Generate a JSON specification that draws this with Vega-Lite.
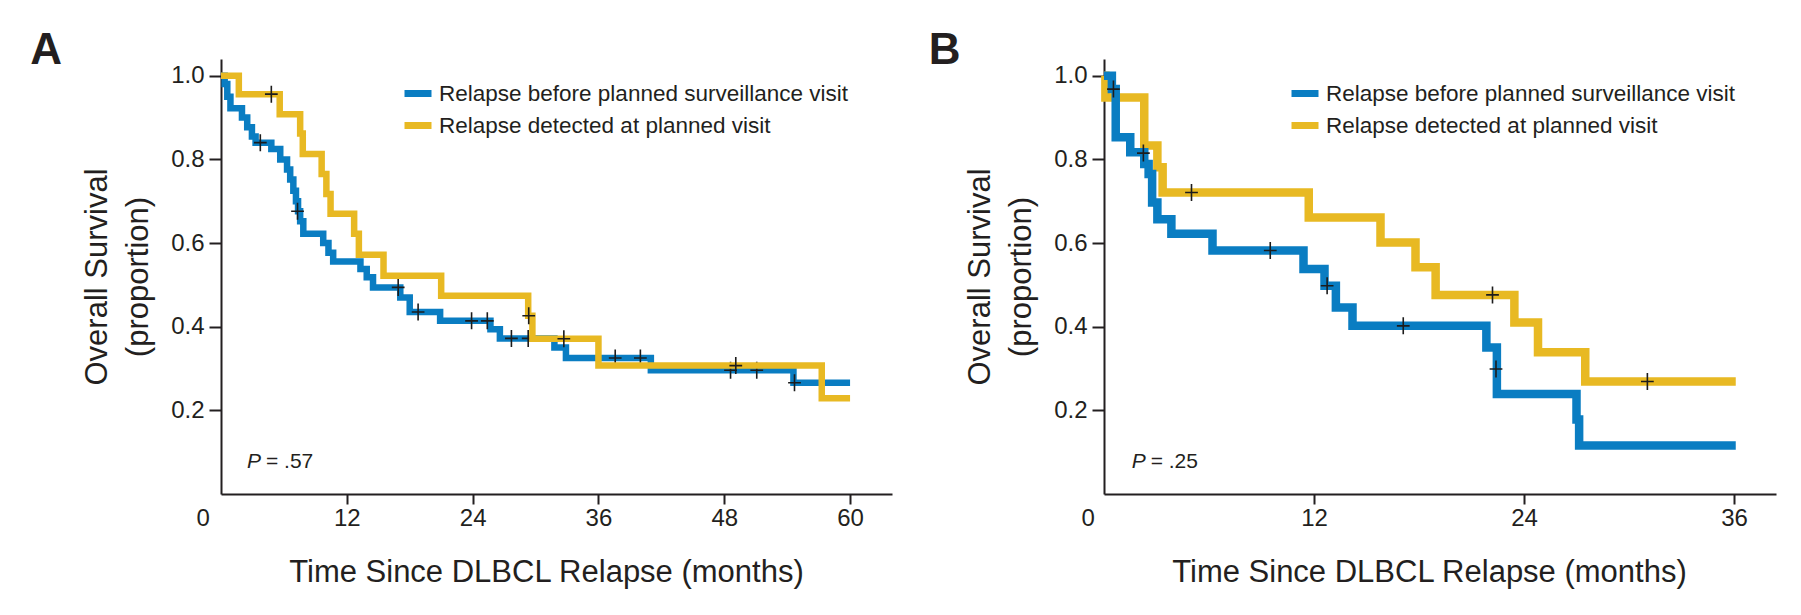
{
  "$schema": "https://vega.github.io/schema/vega-lite/v6.json",
  "background": "white",
  "autosize": {"type": "pad"},
  "padding": {"left": 30, "top": 28, "right": 25, "bottom": 8},
  "spacing": 36,
  "config": {
    "font": "Liberation Sans",
    "view": {"stroke": null},
    "axis": {
      "grid": false,
      "domainColor": "#231f20",
      "domainWidth": 2,
      "tickColor": "#231f20",
      "tickWidth": 2,
      "labelFont": "Liberation Sans",
      "labelFontSize": 24,
      "labelColor": "#231f20",
      "titleFont": "Liberation Sans",
      "titleFontSize": 31,
      "titleFontWeight": "normal",
      "titleColor": "#231f20"
    },
    "axisX": {"tickSize": 10, "labelPadding": 2, "titlePadding": 27, "titleX": 325},
    "axisY": {"tickSize": 12, "labelPadding": 5, "titlePadding": 16, "titleLineHeight": 41},
    "legend": {
      "orient": "none",
      "symbolType": "stroke",
      "symbolStrokeWidth": 7,
      "symbolSize": 729,
      "labelFont": "Liberation Sans",
      "labelFontSize": 22.5,
      "labelColor": "#231f20",
      "labelOffset": 4,
      "labelLimit": 700,
      "rowPadding": 1,
      "padding": 0
    },
    "title": {
      "font": "Liberation Sans",
      "fontSize": 44,
      "fontWeight": "bold",
      "color": "#231f20",
      "anchor": "start",
      "frame": "group",
      "baseline": "alphabetic",
      "offset": 0
    }
  },
  "datasets": {
    "A_blue": [
      {"t": 0, "s": 1.0, "group": "Relapse before planned surveillance visit"},
      {"t": 0.35, "s": 0.98, "group": "Relapse before planned surveillance visit"},
      {"t": 0.6, "s": 0.95, "group": "Relapse before planned surveillance visit"},
      {"t": 0.9, "s": 0.922, "group": "Relapse before planned surveillance visit"},
      {"t": 2.0, "s": 0.9, "group": "Relapse before planned surveillance visit"},
      {"t": 2.5, "s": 0.877, "group": "Relapse before planned surveillance visit"},
      {"t": 2.95, "s": 0.855, "group": "Relapse before planned surveillance visit"},
      {"t": 3.3, "s": 0.84, "group": "Relapse before planned surveillance visit"},
      {"t": 4.8, "s": 0.825, "group": "Relapse before planned surveillance visit"},
      {"t": 5.65, "s": 0.8, "group": "Relapse before planned surveillance visit"},
      {"t": 6.3, "s": 0.776, "group": "Relapse before planned surveillance visit"},
      {"t": 6.6, "s": 0.752, "group": "Relapse before planned surveillance visit"},
      {"t": 6.9, "s": 0.725, "group": "Relapse before planned surveillance visit"},
      {"t": 7.15, "s": 0.7, "group": "Relapse before planned surveillance visit"},
      {"t": 7.35, "s": 0.676, "group": "Relapse before planned surveillance visit"},
      {"t": 7.55, "s": 0.652, "group": "Relapse before planned surveillance visit"},
      {"t": 7.85, "s": 0.622, "group": "Relapse before planned surveillance visit"},
      {"t": 9.75, "s": 0.6, "group": "Relapse before planned surveillance visit"},
      {"t": 10.25, "s": 0.577, "group": "Relapse before planned surveillance visit"},
      {"t": 10.7, "s": 0.556, "group": "Relapse before planned surveillance visit"},
      {"t": 13.3, "s": 0.538, "group": "Relapse before planned surveillance visit"},
      {"t": 13.9, "s": 0.518, "group": "Relapse before planned surveillance visit"},
      {"t": 14.5, "s": 0.494, "group": "Relapse before planned surveillance visit"},
      {"t": 17.1, "s": 0.47, "group": "Relapse before planned surveillance visit"},
      {"t": 18.0, "s": 0.435, "group": "Relapse before planned surveillance visit"},
      {"t": 20.9, "s": 0.414, "group": "Relapse before planned surveillance visit"},
      {"t": 25.7, "s": 0.394, "group": "Relapse before planned surveillance visit"},
      {"t": 26.6, "s": 0.372, "group": "Relapse before planned surveillance visit"},
      {"t": 31.8, "s": 0.35, "group": "Relapse before planned surveillance visit"},
      {"t": 32.9, "s": 0.325, "group": "Relapse before planned surveillance visit"},
      {"t": 41.0, "s": 0.296, "group": "Relapse before planned surveillance visit"},
      {"t": 54.6, "s": 0.266, "group": "Relapse before planned surveillance visit"},
      {"t": 60, "s": 0.266, "group": "Relapse before planned surveillance visit"}
    ],
    "A_yellow": [
      {"t": 0, "s": 1.0, "group": "Relapse detected at planned visit"},
      {"t": 1.7, "s": 0.956, "group": "Relapse detected at planned visit"},
      {"t": 5.6, "s": 0.908, "group": "Relapse detected at planned visit"},
      {"t": 7.55, "s": 0.862, "group": "Relapse detected at planned visit"},
      {"t": 7.8, "s": 0.813, "group": "Relapse detected at planned visit"},
      {"t": 9.6, "s": 0.765, "group": "Relapse detected at planned visit"},
      {"t": 10.05, "s": 0.717, "group": "Relapse detected at planned visit"},
      {"t": 10.45, "s": 0.67, "group": "Relapse detected at planned visit"},
      {"t": 12.7, "s": 0.622, "group": "Relapse detected at planned visit"},
      {"t": 13.15, "s": 0.572, "group": "Relapse detected at planned visit"},
      {"t": 15.5, "s": 0.522, "group": "Relapse detected at planned visit"},
      {"t": 21.0, "s": 0.474, "group": "Relapse detected at planned visit"},
      {"t": 29.3, "s": 0.426, "group": "Relapse detected at planned visit"},
      {"t": 29.7, "s": 0.371, "group": "Relapse detected at planned visit"},
      {"t": 36.0, "s": 0.307, "group": "Relapse detected at planned visit"},
      {"t": 57.3, "s": 0.229, "group": "Relapse detected at planned visit"},
      {"t": 60, "s": 0.229, "group": "Relapse detected at planned visit"}
    ],
    "A_blue_c": [
      {"t": 3.75, "s": 0.84}, {"t": 7.3, "s": 0.676}, {"t": 16.9, "s": 0.494},
      {"t": 18.8, "s": 0.435}, {"t": 23.9, "s": 0.414}, {"t": 25.4, "s": 0.414},
      {"t": 27.7, "s": 0.372}, {"t": 29.3, "s": 0.372}, {"t": 37.6, "s": 0.325},
      {"t": 40.0, "s": 0.325}, {"t": 48.6, "s": 0.296}, {"t": 51.1, "s": 0.296},
      {"t": 54.7, "s": 0.266}
    ],
    "A_yellow_c": [
      {"t": 4.8, "s": 0.956}, {"t": 29.35, "s": 0.426}, {"t": 32.7, "s": 0.371}, {"t": 49.1, "s": 0.307}
    ],
    "A_p": [{"t": 2.48, "s": 0.061, "p": "P", "rest": "= .57"}],
    "B_blue": [
      {"t": 0, "s": 1.0, "group": "Relapse before planned surveillance visit"},
      {"t": 0.45, "s": 0.968, "group": "Relapse before planned surveillance visit"},
      {"t": 0.67, "s": 0.853, "group": "Relapse before planned surveillance visit"},
      {"t": 1.5, "s": 0.817, "group": "Relapse before planned surveillance visit"},
      {"t": 2.3, "s": 0.789, "group": "Relapse before planned surveillance visit"},
      {"t": 2.55, "s": 0.765, "group": "Relapse before planned surveillance visit"},
      {"t": 2.75, "s": 0.697, "group": "Relapse before planned surveillance visit"},
      {"t": 3.05, "s": 0.657, "group": "Relapse before planned surveillance visit"},
      {"t": 3.85, "s": 0.622, "group": "Relapse before planned surveillance visit"},
      {"t": 6.2, "s": 0.582, "group": "Relapse before planned surveillance visit"},
      {"t": 11.4, "s": 0.538, "group": "Relapse before planned surveillance visit"},
      {"t": 12.6, "s": 0.498, "group": "Relapse before planned surveillance visit"},
      {"t": 13.25, "s": 0.446, "group": "Relapse before planned surveillance visit"},
      {"t": 14.2, "s": 0.402, "group": "Relapse before planned surveillance visit"},
      {"t": 21.85, "s": 0.35, "group": "Relapse before planned surveillance visit"},
      {"t": 22.45, "s": 0.239, "group": "Relapse before planned surveillance visit"},
      {"t": 27.0, "s": 0.178, "group": "Relapse before planned surveillance visit"},
      {"t": 27.15, "s": 0.116, "group": "Relapse before planned surveillance visit"},
      {"t": 36.1, "s": 0.116, "group": "Relapse before planned surveillance visit"}
    ],
    "B_yellow": [
      {"t": 0, "s": 1.0, "group": "Relapse detected at planned visit"},
      {"t": 0.08, "s": 0.948, "group": "Relapse detected at planned visit"},
      {"t": 2.3, "s": 0.833, "group": "Relapse detected at planned visit"},
      {"t": 3.05, "s": 0.781, "group": "Relapse detected at planned visit"},
      {"t": 3.35, "s": 0.721, "group": "Relapse detected at planned visit"},
      {"t": 11.7, "s": 0.661, "group": "Relapse detected at planned visit"},
      {"t": 15.8, "s": 0.601, "group": "Relapse detected at planned visit"},
      {"t": 17.8, "s": 0.542, "group": "Relapse detected at planned visit"},
      {"t": 18.95, "s": 0.476, "group": "Relapse detected at planned visit"},
      {"t": 23.45, "s": 0.41, "group": "Relapse detected at planned visit"},
      {"t": 24.8, "s": 0.339, "group": "Relapse detected at planned visit"},
      {"t": 27.5, "s": 0.269, "group": "Relapse detected at planned visit"},
      {"t": 36.1, "s": 0.269, "group": "Relapse detected at planned visit"}
    ],
    "B_blue_c": [
      {"t": 0.54, "s": 0.968}, {"t": 2.25, "s": 0.815}, {"t": 9.5, "s": 0.582},
      {"t": 12.75, "s": 0.498}, {"t": 17.1, "s": 0.402}, {"t": 22.4, "s": 0.299}
    ],
    "B_yellow_c": [
      {"t": 5.0, "s": 0.721}, {"t": 22.2, "s": 0.476}, {"t": 31.05, "s": 0.269}
    ],
    "B_p": [{"t": 1.58, "s": 0.061, "p": "P", "rest": "= .25"}]
  },
  "hconcat": [
    {
      "width": 671,
      "height": 435,
      "title": {"text": "A", "dx": -190.7, "dy": 18},
      "encoding": {
        "x": {
          "field": "t", "type": "quantitative",
          "scale": {"domain": [0, 64], "nice": false, "zero": false},
          "axis": {
            "values": [0, 12, 24, 36, 48, 60], "format": "d",
            "title": "Time Since DLBCL Relapse (months)",
            "labelOffset": {"condition": {"test": "datum.value === 0", "value": -25}, "value": 0},
            "tickOpacity": {"condition": {"test": "datum.value === 0", "value": 0}, "value": 1}
          }
        },
        "y": {
          "field": "s", "type": "quantitative",
          "scale": {"domain": [0, 1.04], "nice": false},
          "axis": {"values": [0.2, 0.4, 0.6, 0.8, 1.0], "format": ".1f", "title": ["Overall Survival", "(proportion)"]}
        }
      },
      "layer": [
        {
          "data": {"name": "A_blue"},
          "mark": {"type": "line", "interpolate": "step-after", "strokeWidth": 6.5},
          "encoding": {
            "color": {
              "field": "group", "type": "nominal",
              "scale": {"domain": ["Relapse before planned surveillance visit", "Relapse detected at planned visit"], "range": ["#0a7dc2", "#e8b923"]},
              "legend": {"title": null, "legendX": 180, "legendY": 17.5}
            }
          }
        },
        {
          "data": {"name": "A_blue_c"},
          "mark": {"type": "point", "shape": "M-0.75,0H0.75M0,-1V1", "size": 289, "filled": false, "stroke": "#1c1c1c", "strokeWidth": 1.6, "opacity": 1}
        },
        {
          "data": {"name": "A_yellow"},
          "mark": {"type": "line", "interpolate": "step-after", "strokeWidth": 6.5},
          "encoding": {"color": {"field": "group", "type": "nominal"}}
        },
        {
          "data": {"name": "A_yellow_c"},
          "mark": {"type": "point", "shape": "M-0.75,0H0.75M0,-1V1", "size": 289, "filled": false, "stroke": "#1c1c1c", "strokeWidth": 1.6, "opacity": 1}
        },
        {
          "data": {"name": "A_p"},
          "mark": {"type": "text", "align": "left", "baseline": "alphabetic", "fontSize": 21, "fontStyle": "italic", "color": "#231f20"},
          "encoding": {"text": {"field": "p"}}
        },
        {
          "data": {"name": "A_p"},
          "mark": {"type": "text", "align": "left", "baseline": "alphabetic", "fontSize": 21, "dx": 19, "color": "#231f20"},
          "encoding": {"text": {"field": "rest"}}
        }
      ]
    },
    {
      "width": 672,
      "height": 435,
      "title": {"text": "B", "dx": -175.3, "dy": 18},
      "encoding": {
        "x": {
          "field": "t", "type": "quantitative",
          "scale": {"domain": [0, 38.4], "nice": false, "zero": false},
          "axis": {
            "values": [0, 12, 24, 36], "format": "d",
            "title": "Time Since DLBCL Relapse (months)",
            "labelOffset": {"condition": {"test": "datum.value === 0", "value": -23}, "value": 0},
            "tickOpacity": {"condition": {"test": "datum.value === 0", "value": 0}, "value": 1}
          }
        },
        "y": {
          "field": "s", "type": "quantitative",
          "scale": {"domain": [0, 1.04], "nice": false},
          "axis": {"values": [0.2, 0.4, 0.6, 0.8, 1.0], "format": ".1f", "title": ["Overall Survival", "(proportion)"]}
        }
      },
      "layer": [
        {
          "data": {"name": "B_yellow"},
          "mark": {"type": "line", "interpolate": "step-after", "strokeWidth": 8.5},
          "encoding": {
            "color": {
              "field": "group", "type": "nominal",
              "scale": {"domain": ["Relapse before planned surveillance visit", "Relapse detected at planned visit"], "range": ["#0a7dc2", "#e8b923"]},
              "legend": {"title": null, "legendX": 184, "legendY": 17.5}
            }
          }
        },
        {
          "data": {"name": "B_yellow_c"},
          "mark": {"type": "point", "shape": "M-0.75,0H0.75M0,-1V1", "size": 289, "filled": false, "stroke": "#1c1c1c", "strokeWidth": 1.6, "opacity": 1}
        },
        {
          "data": {"name": "B_blue"},
          "mark": {"type": "line", "interpolate": "step-after", "strokeWidth": 8.5},
          "encoding": {"color": {"field": "group", "type": "nominal"}}
        },
        {
          "data": {"name": "B_blue_c"},
          "mark": {"type": "point", "shape": "M-0.75,0H0.75M0,-1V1", "size": 289, "filled": false, "stroke": "#1c1c1c", "strokeWidth": 1.6, "opacity": 1}
        },
        {
          "data": {"name": "B_p"},
          "mark": {"type": "text", "align": "left", "baseline": "alphabetic", "fontSize": 21, "fontStyle": "italic", "color": "#231f20"},
          "encoding": {"text": {"field": "p"}}
        },
        {
          "data": {"name": "B_p"},
          "mark": {"type": "text", "align": "left", "baseline": "alphabetic", "fontSize": 21, "dx": 19, "color": "#231f20"},
          "encoding": {"text": {"field": "rest"}}
        }
      ]
    }
  ],
  "resolve": {"scale": {"x": "independent", "y": "independent", "color": "independent"}}
}
